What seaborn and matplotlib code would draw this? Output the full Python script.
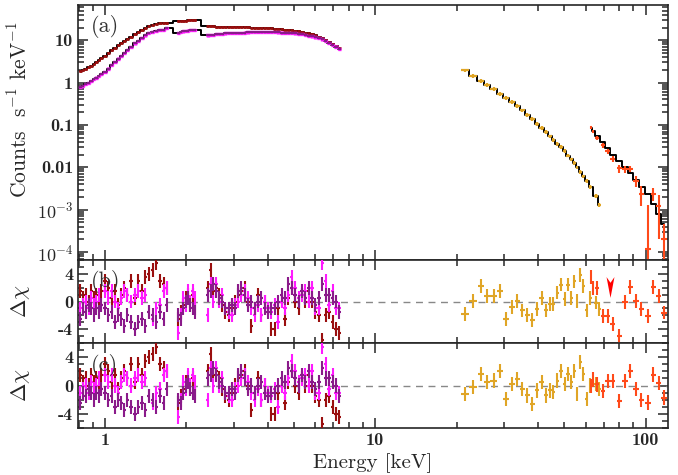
import numpy as np
import matplotlib
matplotlib.use("Agg")
import matplotlib.pyplot as plt
from matplotlib.path import Path
from matplotlib.ticker import FixedLocator, FixedFormatter, MultipleLocator, LogLocator, NullFormatter
import seaborn as sns

# soft band (keV): three segments with gaps near 1.8 and 2.3 keV
soft_e = [0.81, 0.83, 0.85, 0.87, 0.89, 0.91, 0.93, 0.95, 0.97, 1.00, 1.03, 1.06, 1.09, 1.12,
          1.15, 1.18, 1.21, 1.25, 1.29, 1.33, 1.37, 1.41, 1.45, 1.50, 1.55, 1.60, 1.65, 1.69,
          1.87, 1.91, 1.95, 1.99, 2.03, 2.07, 2.11, 2.15,
          2.40, 2.46, 2.52, 2.58, 2.65, 2.72, 2.79, 2.87, 2.95, 3.03, 3.11, 3.20, 3.29, 3.38,
          3.48, 3.58, 3.68, 3.79, 3.90, 4.01, 4.13, 4.25, 4.37, 4.50, 4.63, 4.77, 4.91, 5.05,
          5.20, 5.35, 5.51, 5.67, 5.84, 6.01, 6.19, 6.37, 6.56, 6.75, 6.95, 7.15, 7.35]
soft_flux_hi = [1.9, 2.0, 2.1, 2.3, 2.5, 2.8, 3.1, 3.4, 3.8, 4.3, 5.0, 5.8, 6.7, 7.6,
                8.5, 9.5, 10.5, 12, 13.8, 15.5, 17.5, 19.5, 21.5, 23, 24, 25, 25.5, 25.5,
                28, 28.5, 29, 29, 29.5, 29.5, 29.5, 29.5,
                21.5, 21.3, 21.2, 21, 21, 20.8, 20.7, 20.6, 20.5, 20.5, 20.4, 20.3, 20.2, 20.1,
                20, 19.9, 19.8, 19.6, 19.4, 19.2, 19, 18.8, 18.5, 18.2, 17.9, 17.6, 17.2, 16.8,
                16.3, 15.8, 15.2, 14.5, 13.8, 13, 12.2, 11.3, 10.3, 9.3, 8.3, 7.3, 6.4]
soft_flux_lo = [0.78, 0.85, 0.92, 1.0, 1.1, 1.2, 1.32, 1.45, 1.58, 1.8, 2.15, 2.6, 3.1, 3.7,
                4.3, 5.0, 5.8, 7.0, 8.4, 9.8, 11.3, 13, 14.6, 16, 16.8, 17.2, 17.6, 19.5,
                14.6, 15.5, 16.2, 16.8, 17, 17.2, 17.3, 17.3,
                13, 13.3, 13.6, 13.9, 14.1, 14.3, 14.5, 14.6, 14.8, 14.9, 15, 15.1, 15.2, 15.3,
                15.4, 15.4, 15.5, 15.5, 15.5, 15.5, 15.5, 15.4, 15.3, 15.2, 15.1, 14.9, 14.7, 14.5,
                14.2, 13.8, 13.4, 12.9, 12.3, 11.7, 11.2, 10.5, 9.7, 8.8, 7.9, 7.1, 6.3]
res_red = [1.5, 0.5, 1.0, 0.0, 1.5, 0.5, 1.0, -0.5, 1.5, 3.0, 2.0, 0.5, 1.5, -0.5,
           1.0, 2.0, 1.0, 3.0, 0.5, 3.0, 1.5, 3.5, 4.0, 4.5, 5.5, 3.0, 2.5, 2.0,
           -2.5, -1.5, -0.5, 0.5, 1.0, -0.5, 1.0, -1.0,
           2.0, 4.5, 1.5, 2.0, 1.0, -0.5, -1.5, -2.0, -1.0, 0.0, 1.0, 1.5, 2.0, 0.0,
           -3.5, -1.0, 1.0, -2.0, 0.0, -1.0, -4.0, -4.0, -1.0, 0.0, -2.5, 0.5, 2.0, 0.0,
           -1.0, 1.0, 0.0, 1.5, 0.0, -1.5, -2.0, -5.5, -2.0, -1.5, -3.0, -4.0, -4.5]
res_mag = [-1.0, -0.5, 0.0, -1.0, 0.5, -0.5, 0.0, 1.0, -0.5, 1.5, 0.5, 1.5, 0.0, -1.0,
           0.5, 1.5, 1.0, 0.0, 1.0, 1.5, 0.5, 1.0, -1.5, -2.5, -1.0, -0.5, 1.5, 2.0,
           -4.5, -2.0, 0.5, -0.5, 1.5, 0.0, 1.5, 0.5,
           -2.0, 2.5, 0.0, 2.5, 0.0, 1.0, -1.0, -1.5, -2.0, -0.5, 0.0, 1.0, 1.5, 0.5,
           -1.0, -2.0, -0.5, -2.0, 0.0, -1.0, -1.5, -0.5, -3.0, 0.0, -1.0, 1.0, 3.5, 2.0,
           0.5, 1.0, 1.5, 0.0, 2.0, -1.0, -1.0, 5.5, 3.0, -0.5, 1.5, -1.0, -1.0]
res_pur = [-2.5, -1.0, -1.5, -0.5, -1.0, -2.0, -1.0, -1.5, -0.5, -1.0, -2.0, -1.5, -3.0, -2.0,
           -2.5, -3.5, -2.0, -3.0, -4.0, -3.0, -2.5, -3.5, -1.5, -2.0, -3.0, -1.5, -2.5, -0.5,
           -2.0, -2.5, -1.0, 0.0, 0.5, -0.5, -1.0, -1.5,
           1.0, 1.5, 2.5, 1.5, 0.5, 0.0, -1.0, -1.0, -0.5, -1.0, 1.5, 2.0, 1.0, -0.5,
           0.0, -1.0, 0.0, 0.5, -1.0, -1.5, -1.0, -1.0, 0.0, 1.0, 0.5, 2.5, 2.0, 1.0,
           0.0, 1.5, 0.5, 2.0, 0.5, -0.5, 0.5, 2.5, 1.0, 1.0, 0.5, 0.0, -1.5]

# hard band, first instrument (gold)
gold_e = [21.5, 23.0, 24.6, 25.9, 27.4, 29.0, 30.5, 32.0, 33.5, 35.0, 36.5, 38.1, 39.8, 41.2, 42.7,
          44.3, 45.6, 47.2, 48.6, 50.2, 51.6, 53.0, 54.5, 55.7, 57.3, 58.9, 60.6, 62.5, 65.3, 67.5]
gold_flux = [1.95, 1.45, 1.1, 0.88, 0.70, 0.55, 0.44, 0.35, 0.28, 0.22, 0.175, 0.14, 0.105, 0.085, 0.068,
             0.054, 0.045, 0.036, 0.030, 0.024, 0.019, 0.0155, 0.0125, 0.010, 0.0078, 0.0061, 0.0047,
             0.0034, 0.0021, 0.0013]
gold_res_b = [-1.8, 0.1, 2.2, 0.8, 0.8, 1.5, -2.5, -0.85, 0.1, -1.3, -2.0, -2.7, -1.1, 0.55, -1.3,
              -0.4, -0.4, 1.3, 2.45, 0.35, 2.45, 0.55, 2.9, 0.1, 3.85, 2.2, -1.3, 0.55, -0.15, -1.1]
gold_res_c = [-1.2, -0.2, 1.65, 0.5, 0.7, 2.1, -1.9, 0.25, 0.95, -0.5, -1.4, -2.6, -0.7, 0.5, -1.4,
              -0.7, -0.95, 0.7, 2.1, 0.25, 1.65, 0.5, 2.1, -1.2, 3.3, 1.65, -1.9, 0.0, 0.25, -0.5]

# hard band, second instrument (orange-red)
hxt_e = [62.8, 64.0, 66.2, 69.6, 72.5, 75.7, 80.0, 83.9, 87.8, 92.0, 96.5, 101.7, 106.9, 111.6, 116.8]
hxt_flux = [0.088, 0.07, 0.05, 0.033, 0.024, 0.016, 0.0095, 0.009, 0.0092, 0.0048, 0.0024,
            0.00012, 0.0024, 0.0012, 0.0002]
hxt_err = [0.008, 0.006, 0.005, 0.004, 0.003, 0.0025, 0.002, 0.0018, 0.0016, 0.0014, 0.0012,
           0.0012, 0.0008, 0.001, 0.00025]
hxt_model = [0.085, 0.072, 0.055, 0.04, 0.028, 0.02, 0.014, 0.01, 0.0075, 0.005, 0.0035,
             0.0024, 0.0014, 0.0008, 0.00045]
hxt_res_b = [3.6, 1.9, 1.9, -2.1, -2.1, -3.2, -5.0, -0.1, 2.15, 0.05, -1.1, -2.1, 2.15, 0.75, -1.6]
hxt_res_c = [-0.1, 0.85, 0.15, -0.8, 0.6, 0.6, -2.2, 0.6, 2.0, -0.55, -2.0, -2.4, 1.55, 0.4, -1.7]

upper_limit_e = 74.0

C_RED = "#9a0f0f"
C_MAG = "#ff1aff"
C_PUR = "#8a1a8a"
C_GOLD = "#e0a526"
C_HXT = "#ff4a1a"


def half_width(e):
    e = np.asarray(e, float)
    le = np.log10(e)
    d = np.diff(le)
    h = np.minimum(np.r_[d[0], d], np.r_[d, d[-1]]) / 2
    return [e - 10 ** (le - h), 10 ** (le + h) - e]


def points(ax, e, y, yerr, color, lw=1.5, z=3):
    ax.errorbar(e, y, xerr=half_width(e), yerr=yerr, fmt="none", ecolor=color,
                elinewidth=lw, capsize=0, zorder=z)


def model(ax, e, y):
    sns.lineplot(x=e, y=y, drawstyle="steps-mid", color="black", lw=1.4, ax=ax,
                 estimator=None, sort=False, zorder=2)


sns.set_style("ticks")
plt.rcParams["font.family"] = "serif"
plt.rcParams["font.serif"] = ["cmb10", "DejaVu Serif"]
plt.rcParams["mathtext.fontset"] = "cm"
plt.rcParams["axes.unicode_minus"] = False
plt.rcParams["axes.linewidth"] = 1.2

fig = plt.figure(figsize=(6.78, 4.75), dpi=100)
gs = fig.add_gridspec(3, 1, height_ratios=[255, 83, 85], hspace=0,
                      left=78 / 678, right=668 / 678, top=1 - 5 / 475, bottom=1 - 428 / 475)
ax = fig.add_subplot(gs[0])
axb = fig.add_subplot(gs[1], sharex=ax)
axc = fig.add_subplot(gs[2], sharex=ax)

ax.set_xscale("log")
ax.set_yscale("log")

# top panel: spectra and models
model(ax, soft_e, soft_flux_hi)
model(ax, soft_e, soft_flux_lo)
model(ax, gold_e, gold_flux)
model(ax, hxt_e, hxt_model)
points(ax, soft_e, soft_flux_hi, [0.05 * v for v in soft_flux_hi], C_RED, lw=2.0)
points(ax, soft_e, soft_flux_lo, [0.06 * v for v in soft_flux_lo], C_MAG, lw=2.4)
points(ax, soft_e, soft_flux_lo, [0.04 * v for v in soft_flux_lo], C_PUR, lw=1.6)
points(ax, gold_e, gold_flux, [0.1 * v for v in gold_flux], C_GOLD, lw=1.6)
points(ax, hxt_e, hxt_flux, hxt_err, C_HXT, lw=1.5)

ax.set_ylim(6.5e-5, 68)
ax.yaxis.set_major_locator(FixedLocator([10, 1, 0.1, 0.01, 1e-3, 1e-4]))
ax.yaxis.set_major_formatter(FixedFormatter(["10", "1", "0.1", "0.01",
                                             r"$\mathbf{10^{-3}}$", r"$\mathbf{10^{-4}}$"]))
ax.yaxis.set_minor_locator(LogLocator(base=10, subs=range(2, 10), numticks=20))
ax.yaxis.set_minor_formatter(NullFormatter())
ax.set_ylabel(r"Counts  s$^{-1}$ keV$^{-1}$", fontsize=15.5, family="cmr10")
ax.yaxis.set_label_coords(-0.08, 0.59)

# residual panels
for a, g_res, h_res in [(axb, gold_res_b, hxt_res_b), (axc, gold_res_c, hxt_res_c)]:
    a.axhline(0, color="#888888", ls=(0, (5, 4)), lw=1.0, zorder=1)
    points(a, soft_e, res_red, 1.0, C_RED)
    points(a, soft_e, res_mag, 1.0, C_MAG)
    points(a, soft_e, res_pur, 1.0, C_PUR)
    points(a, gold_e, g_res, 1.0, C_GOLD)
    points(a, hxt_e, h_res, 1.0, C_HXT)
    a.set_ylim(-6, 6)
    a.yaxis.set_major_locator(FixedLocator([-4, 0, 4]))
    a.yaxis.set_major_formatter(FixedFormatter(["-4", "0", "4"]))
    a.yaxis.set_minor_locator(MultipleLocator(1))
    a.set_ylabel(r"$\Delta\chi$", fontsize=16)
    a.yaxis.set_label_coords(-0.078, 0.5)

# upper limit marker in panel (b)
arrow = Path([(0, -1.0), (-0.38, 1.0), (0, 0.45), (0.38, 1.0), (0, -1.0)],
             [Path.MOVETO, Path.LINETO, Path.LINETO, Path.LINETO, Path.CLOSEPOLY])
axb.plot([upper_limit_e], [2.1], marker=arrow, markersize=15, color="#ff0000",
         markeredgewidth=0, linestyle="none", zorder=5)

for a in (ax, axb, axc):
    a.set_xlim(0.795, 121)
    a.xaxis.set_major_locator(FixedLocator([1, 10, 100]))
    a.xaxis.set_minor_locator(LogLocator(base=10, subs=range(2, 10), numticks=20))
    a.xaxis.set_minor_formatter(NullFormatter())
    a.tick_params(which="both", direction="in", top=True, right=True, labelsize=13, width=1.1)
    a.tick_params(which="major", length=7)
    a.tick_params(which="minor", length=4)

ax.tick_params(labelbottom=False)
axb.tick_params(labelbottom=False)
axc.xaxis.set_major_formatter(FixedFormatter(["1", "10", "100"]))
axc.set_xlabel("Energy [keV]", fontsize=15, family="cmr10")

for a, lab, yy in [(ax, "(a)", 0.915), (axb, "(b)", 0.735), (axc, "(c)", 0.735)]:
    a.text(0.021, yy, lab, transform=a.transAxes, fontsize=16, color="#333333",
           family="cmr10", va="center", ha="left", zorder=6)

fig.savefig("out.png", dpi=100)
